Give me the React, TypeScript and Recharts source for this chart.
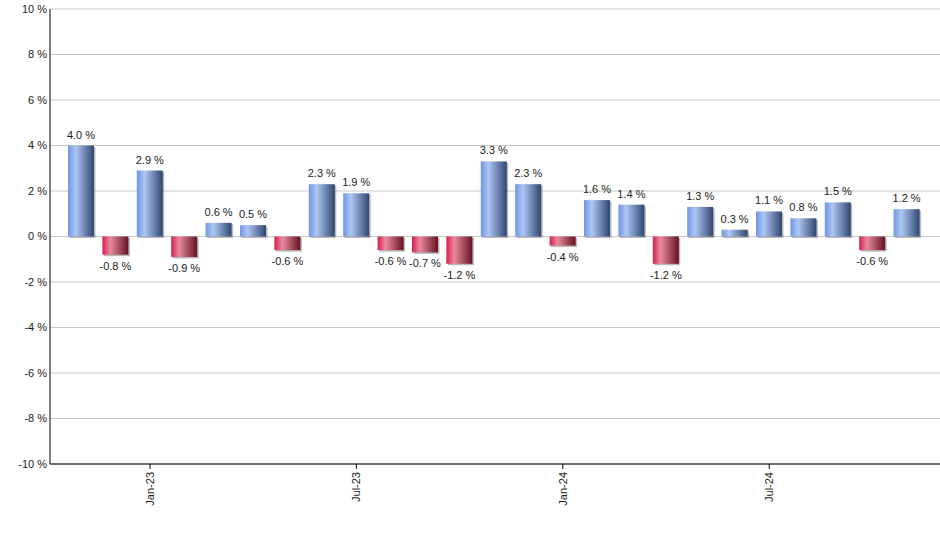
import React from 'react';
import { BarChart, Bar, XAxis, YAxis, CartesianGrid, Cell, LabelList } from 'recharts';

const months = ['Nov-22','Dec-22','Jan-23','Feb-23','Mar-23','Apr-23','May-23','Jun-23','Jul-23','Aug-23','Sep-23','Oct-23','Nov-23','Dec-23','Jan-24','Feb-24','Mar-24','Apr-24','May-24','Jun-24','Jul-24','Aug-24','Sep-24','Oct-24','Nov-24'];
const values = [4.0, -0.8, 2.9, -0.9, 0.6, 0.5, -0.6, 2.3, 1.9, -0.6, -0.7, -1.2, 3.3, 2.3, -0.4, 1.6, 1.4, -1.2, 1.3, 0.3, 1.1, 0.8, 1.5, -0.6, 1.2];
const shownTicks = ['Jan-23', 'Jul-23', 'Jan-24', 'Jul-24'];
const yTicks = [-10, -8, -6, -4, -2, 0, 2, 4, 6, 8, 10];

const data = months.map((m, i) => ({ month: m, value: values[i] }));

const FONT = 'Arial, "Liberation Sans", sans-serif';

const BarShape = (props: any) => {
  const { x, y, width, height, fill } = props;
  const top = Math.min(y, y + height);
  const h = Math.abs(height);
  if (!h) return null;
  return (
    <g>
      <rect x={x + 1.5} y={top + 1.5} width={width} height={h} fill="#8c8c8c" opacity={0.6} />
      <rect x={x} y={top} width={width} height={h} fill={fill} />
    </g>
  );
};

const ValueLabel = (props: any) => {
  const { x, y, width, height, value } = props;
  const top = Math.min(y, y + height);
  const bottom = Math.max(y, y + height);
  const cx = x + width / 2;
  const ty = value >= 0 ? top - 7 : bottom + 15;
  return (
    <text x={cx} y={ty} textAnchor="middle" fontSize={11} fontFamily={FONT} fill="#222">
      {`${value.toFixed(1)} %`}
    </text>
  );
};

const XTick = (props: any) => {
  const { x, y, payload } = props;
  if (!shownTicks.includes(payload.value)) return null;
  return (
    <g>
      <line x1={x} x2={x} y1={y} y2={y + 5} stroke="#000" strokeWidth={1} />
      <text
        x={0}
        y={0}
        transform={`translate(${x + 4}, ${y + 8}) rotate(-90)`}
        textAnchor="end"
        fontSize={11}
        fontFamily={FONT}
        fill="#222"
      >
        {payload.value}
      </text>
    </g>
  );
};

export default function App() {
  return (
    <div style={{ position: 'absolute', left: 0, top: 0, background: '#fff' }}>
      <BarChart width={940} height={550} data={data} margin={{ top: 9, right: 0, left: 0, bottom: 0 }} barSize={26}>
        <defs>
          <linearGradient id="gBlue" x1="0" y1="0" x2="1" y2="0">
            <stop offset="0%" stopColor="#6f96e6" />
            <stop offset="30%" stopColor="#adc6f3" />
            <stop offset="100%" stopColor="#2f466f" />
          </linearGradient>
          <linearGradient id="gRed" x1="0" y1="0" x2="1" y2="0">
            <stop offset="0%" stopColor="#d81d4b" />
            <stop offset="30%" stopColor="#e98a9e" />
            <stop offset="100%" stopColor="#641323" />
          </linearGradient>
        </defs>
        <CartesianGrid vertical={false} stroke="#c8c8c8" />
        <XAxis
          dataKey="month"
          interval={0}
          height={86}
          tickLine={false}
          tickSize={0}
          tickMargin={0}
          tick={<XTick />}
          axisLine={{ stroke: '#000' }}
          padding={{ left: 14, right: 16 }}
        />
        <YAxis
          width={50}
          domain={[-10, 10]}
          ticks={yTicks}
          interval={0}
          tickLine={false}
          tickSize={1}
          tickMargin={2}
          axisLine={{ stroke: '#000' }}
          tickFormatter={(v: number) => `${v} %`}
          tick={{ fontSize: 11, fontFamily: FONT, fill: '#222' }}
        />
        <Bar dataKey="value" isAnimationActive={false} shape={<BarShape />}>
          {data.map((d, i) => (
            <Cell key={i} fill={d.value >= 0 ? 'url(#gBlue)' : 'url(#gRed)'} />
          ))}
          <LabelList dataKey="value" content={<ValueLabel />} />
        </Bar>
      </BarChart>
    </div>
  );
}
